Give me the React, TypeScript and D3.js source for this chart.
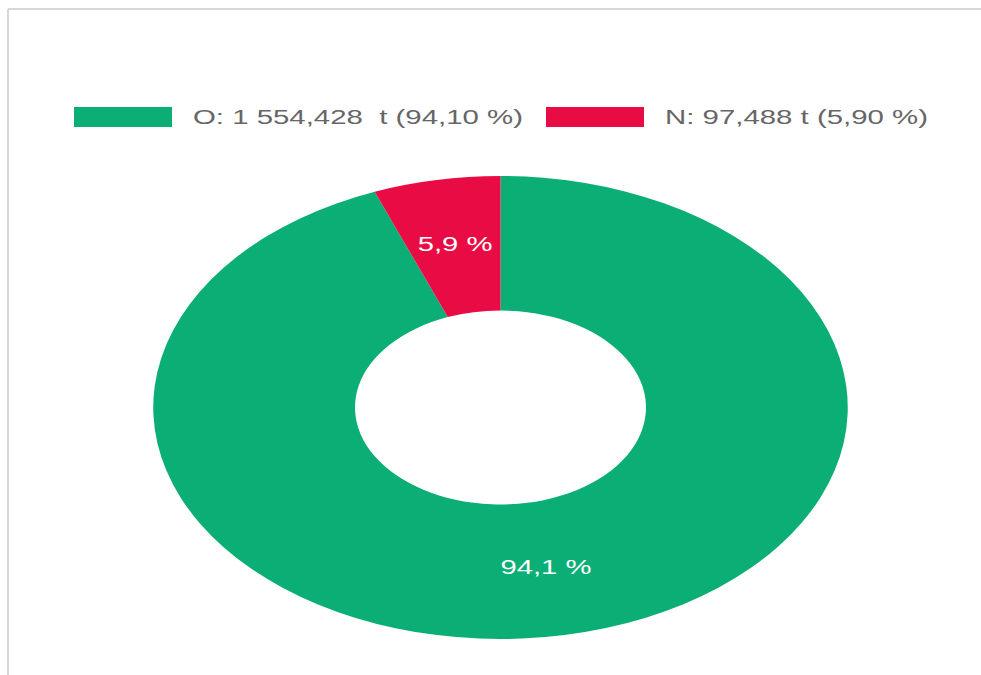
import React, { useEffect } from "react";
import * as d3 from "d3";

const categories = ["O", "N"];
const values = [1554.428, 97.488];
const legendLabels = ["O: 1 554,428  t (94,10 %)", "N: 97,488 t (5,90 %)"];
const colors = ["#0bae74", "#e90c44"];

const W = 981;
const H = 675;
const SX = 1.5;
const CX = 500.5;
const CY = 407.5;
const R_OUT = 231.5;
const R_IN = 97;

export default function App() {
  useEffect(() => {
    document.body.style.margin = "0";
  }, []);

  const total = d3.sum(values);
  const pie = d3
    .pie<number>()
    .sort(null)
    .startAngle(0)
    .endAngle(2 * Math.PI)
    .value((d) => d);
  const arcs = pie(values);
  const arcGen = d3.arc<d3.PieArcDatum<number>>().innerRadius(R_IN).outerRadius(R_OUT);

  const legendX = [74, 546];
  const boxW = 98;
  const boxH = 20;
  const legendY = 107;
  const font = "'Liberation Sans', Arial, Helvetica, sans-serif";

  return (
    <svg width={W} height={H} style={{ display: "block" }} fontFamily={font}>
      <rect x={0} y={0} width={W} height={H} fill="#ffffff" />
      <line x1={8} y1={9} x2={W} y2={9} stroke="#d6d6d6" strokeWidth={2} />
      <line x1={8} y1={9} x2={8} y2={H} stroke="#d6d6d6" strokeWidth={2} />

      {categories.map((c, i) => (
        <g key={c}>
          <rect x={legendX[i]} y={legendY} width={boxW} height={boxH} fill={colors[i]} />
          <text
            transform={`translate(${legendX[i] + boxW + 21},${legendY + 17}) scale(${SX},1)`}
            fontSize={19.6}
            fill="#666666"
            style={{ whiteSpace: "pre" }}
          >
            {legendLabels[i]}
          </text>
        </g>
      ))}

      <g transform={`translate(${CX},${CY}) scale(${SX},1)`}>
        {arcs.map((a, i) => (
          <path key={categories[i]} d={arcGen(a) || ""} fill={colors[i]} />
        ))}
        {arcs.map((a, i) => {
          const [x, y] = arcGen.centroid(a);
          const pct = ((a.value / total) * 100).toFixed(1).replace(".", ",") + " %";
          return (
            <text
              key={"l" + categories[i]}
              x={x}
              y={y}
              dy="0.25em"
              textAnchor="middle"
              fontSize={19.5}
              fill="#ffffff"
            >
              {pct}
            </text>
          );
        })}
      </g>
    </svg>
  );
}
